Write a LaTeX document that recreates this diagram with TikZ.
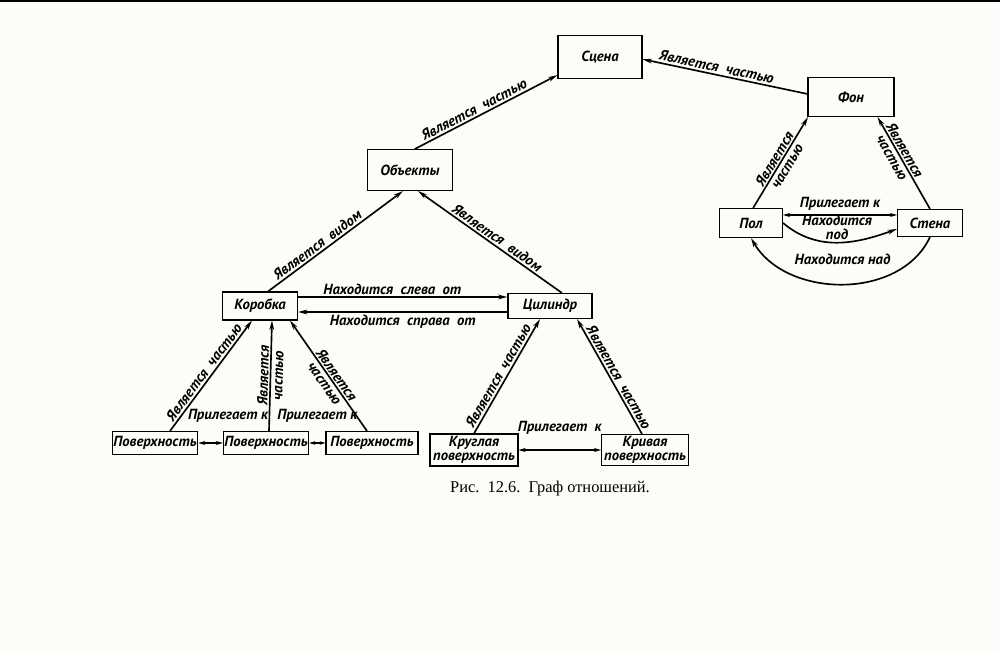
\documentclass[tikz,border=0pt]{standalone}
\usepackage{fontspec}
\setmainfont{PT Sans}
\newfontfamily\capfont{Liberation Serif}
\usetikzlibrary{arrows.meta}
\definecolor{paper}{RGB}{250,253,248}

\begin{document}
\begin{tikzpicture}[x=0.03cm, y=-0.03cm, font=\bfseries\itshape\fontsize{12.5}{12.5}\selectfont,
	box/.style={draw, line width=0.9pt, inner sep=1pt, align=center},
	lbl/.style={inner sep=1.5pt},
	rel/.style={line width=1.4pt, -{Stealth[length=8pt,width=4pt]}},
	both/.style={line width=1.4pt, {Stealth[length=6pt,width=3.5pt]}-{Stealth[length=6pt,width=3.5pt]}},
	tiny/.style={line width=1.4pt, {Stealth[length=5pt,width=3pt]}-{Stealth[length=5pt,width=3pt]}}]
	%\draw[help lines, gray!30] (0,0) grid[step=50] (1000,653);
	\fill[paper] (0,0) rectangle (1000,653);
	\useasboundingbox (0,0) rectangle (1000,653);
	\draw[line width=1.6pt] (0,1) -- (1000,1);
	
	\foreach \n/\x/\y/\w/\h/\t in {scena/600/57/84/43/Сцена, fon/851/97/86/39/Фон,
		obekty/410/170/85/41/Объекты, korobka/260/306/75/28/Коробка, cilindr/550/306/84/25/Цилиндр,
		pov1/155/443/85/23/Поверхность, pov2/266/443/85/23/Поверхность, pov3/372/443/92/23/Поверхность,
		krugl/474/450/88/32/{Круглая\\поверхность}, kriv/645/450/87/31/{Кривая\\поверхность},
		pol/751/223/63/29/Пол, stena/930/223/65/27/Стена}
	\node[box, minimum width=\w*0.03cm, minimum height=\h*0.03cm] (\n) at (\x,\y) {\t};
	
	% upper part
	\draw[rel] (obekty.77) -- node[lbl, pos=.44, above, sloped] {Является~~частью} (scena.203);
	\draw[rel] (fon.176) -- node[lbl, pos=.56, above, sloped] {Является~~частью} (scena.-3);
	\draw[rel] (pol.82) -- node[lbl, sloped, align=center] {Является\\частью} (fon.205);
	\draw[rel] (stena.north) -- node[lbl, pos=.6, sloped, align=center] {Является\\частью} (fon.-37);
	\draw[both] ([shift={(0,-8)}]pol.east) -- node[lbl, above=2pt] {Прилегает~к} ([shift={(0,-8)}]stena.west);
	\draw[rel] (pol.east) to[out=-40, in=200] node[lbl, above, align=center] {Находится\\под} ([shift={(0,6)}]stena.west);
	\draw[rel] (stena.south) to[out=-115, in=-60] node[lbl, above=14pt] {Находится~над} (pol.south);
	
	% middle
	\draw[rel] ([shift={(8,0)}]korobka.north) -- node[lbl, pos=.4, above, sloped] {Является~~видом} ([shift={(-7,0)}]obekty.south);
	\draw[rel] ([shift={(12,0)}]cilindr.north) -- node[lbl, pos=.48, above, sloped] {Является~~видом} ([shift={(8,0)}]obekty.south);
	\draw[rel] ([shift={(0,-9)}]korobka.east) -- node[lbl, pos=.45, above] {Находится~~слева~~от} ([shift={(0,-9)}]cilindr.west);
	\draw[rel] ([shift={(0,6)}]cilindr.west) -- node[lbl, below] {Находится~~справа~~от} ([shift={(0,6)}]korobka.east);
	
	% lower part
	\draw[rel] ([shift={(15,0)}]pov1.north) -- node[lbl, pos=.49, above, sloped] {Является~~частью} ([shift={(-8,0)}]korobka.south);
	\draw[rel] ([shift={(3,0)}]pov2.north) -- node[lbl, sloped, align=center] {Является\\частью} ([shift={(12,0)}]korobka.south);
	\draw[rel] ([shift={(-5,0)}]pov3.north) -- node[lbl, pos=.47, sloped, align=center] {Является\\частью} ([shift={(30,0)}]korobka.south);
	\draw[both] (pov1) -- node[lbl, above=15pt, xshift=15pt] {Прилегает~к} (pov2);
	\draw[tiny] (pov2) -- node[lbl, above=15pt] {Прилегает~к} (pov3);
	\draw[rel] (krugl.north) -- node[lbl, pos=.47, above, sloped] {Является~~частью} ([shift={(-10,0)}]cilindr.south);
	\draw[rel] ([shift={(-3,0)}]kriv.north) -- node[lbl, pos=.46, above, sloped] {Является~~частью} ([shift={(27,0)}]cilindr.south);
	\draw[both] (krugl) -- node[lbl, above=11pt] {Прилегает~~к} (kriv);
	
	\node[font=\capfont\fontsize{14}{16}\selectfont] (caption) at (550,489) {Рис.~~12.6.~~Граф отношений.};
	
\end{tikzpicture}
\end{document}
